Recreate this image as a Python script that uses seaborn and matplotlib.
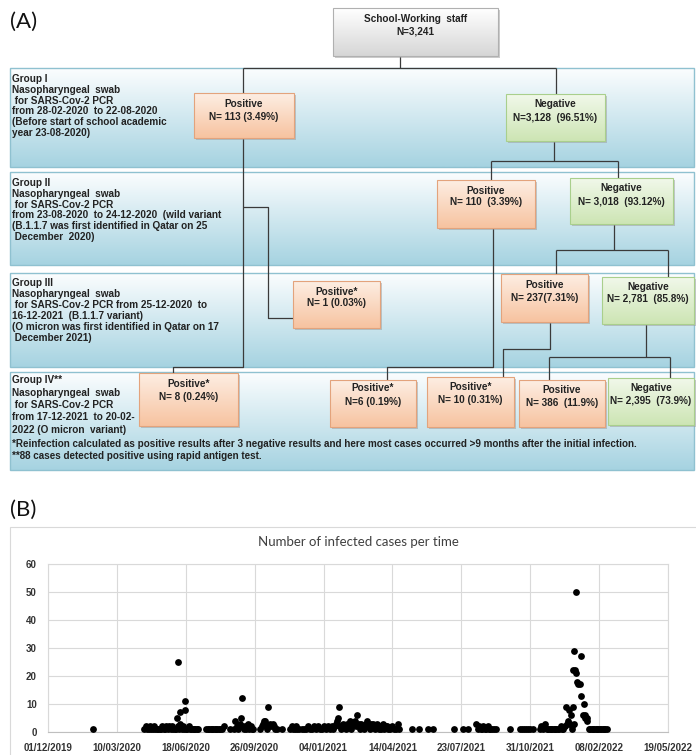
import numpy as np
import pandas as pd
import matplotlib
import matplotlib.pyplot as plt
import matplotlib.dates as mdates
from matplotlib.colors import to_rgb
from matplotlib.patches import Rectangle
import seaborn as sns

matplotlib.use('Agg')

# ---- data for panel (B): days after 01/12/2019 and number of cases ----
start_date = '2019-12-01'
days = [66,
        140, 142, 144, 146, 148, 150, 152, 154, 156, 158, 160, 162, 164, 166, 168, 170, 172, 174, 176,
        178, 180, 182, 184, 186, 187, 188, 189, 190, 191, 192, 193, 194, 196, 198, 199, 199, 200, 202,
        204, 206, 208, 210, 212, 214, 216, 218,
        230, 232, 234, 236, 238, 240, 242, 244, 246, 248, 250, 252, 255,
        264, 270, 272, 274, 276, 278, 280, 281, 282, 284, 286, 288, 290, 292, 294, 296, 298,
        308, 310, 312, 313, 315, 316, 318, 320, 322, 324, 326, 328, 330, 333, 339,
        352, 354, 356, 358, 360, 362, 365, 368, 371, 374, 377, 380, 383, 386, 389, 392, 395, 398, 401,
        404, 407, 410, 412, 414, 416, 418, 420, 421, 423, 424, 426, 428, 430, 432, 434, 436, 438, 440,
        442, 445, 447, 449, 451, 453, 455, 457, 459, 461, 463, 465, 467, 469, 471, 472, 474, 476, 478,
        480, 482, 484, 486, 488, 490, 492, 494, 496, 499, 502, 505, 508, 510,
        528, 539, 551, 559, 590, 603, 609,
        622, 624, 626, 628, 630, 632, 634, 636, 638, 640, 642, 645, 648, 651, 671,
        685, 688, 691, 694, 697, 700, 704,
        714, 716, 718, 720, 722, 724, 726, 728, 730, 732, 734, 736, 738, 740, 742, 744, 746, 748, 750,
        752, 753, 755, 756, 758, 759, 760, 761, 762, 762, 763, 764, 765, 766, 767, 768, 770, 772, 774,
        774, 776, 778, 779, 780, 782, 783, 785, 787, 789, 791, 793, 795, 797, 799, 801, 803, 805, 807,
        809, 811]
cases = [1,
         1, 2, 1, 1, 2, 1, 1, 2, 1, 1, 1, 1, 1, 2, 1, 1, 2, 1, 2,
         1, 2, 1, 1, 1, 5, 2, 25, 1, 3, 7, 2, 1, 2, 1, 11, 8, 1, 1,
         2, 1, 1, 1, 1, 1, 1, 1,
         1, 1, 1, 1, 1, 1, 1, 1, 1, 1, 1, 1, 2,
         1, 1, 4, 2, 1, 3, 5, 12, 2, 1, 2, 1, 3, 1, 2, 1, 1,
         1, 2, 3, 4, 4, 2, 1, 9, 3, 2, 3, 2, 1, 1, 1,
         1, 2, 1, 1, 2, 1, 1, 1, 1, 1, 2, 1, 1, 2, 1, 2, 1, 1, 2,
         1, 2, 1, 2, 1, 2, 3, 4, 5, 9, 2, 1, 3, 2, 1, 3, 2, 4, 1,
         3, 4, 2, 6, 3, 1, 3, 2, 1, 3, 4, 2, 1, 3, 2, 3, 1, 2, 3,
         1, 2, 1, 3, 1, 2, 2, 1, 1, 2, 1, 1, 3, 1,
         1, 1, 1, 1, 1, 1, 1,
         3, 1, 2, 1, 1, 2, 1, 1, 2, 1, 1, 1, 1, 1, 1,
         1, 1, 1, 1, 1, 1, 1,
         1, 2, 1, 2, 3, 1, 1, 1, 1, 1, 1, 1, 1, 1, 1, 2, 1, 1, 2,
         9, 3, 4, 8, 3, 6, 2, 1, 9, 22, 3, 29, 22, 50, 21, 18, 17, 17, 27,
         13, 6, 10, 5, 6, 4, 5, 1, 1, 1, 1, 1, 1, 1, 1, 1, 1, 1, 1,
         1, 1]
tick_step_days = 100
n_ticks = 10
y_ticks = [0, 10, 20, 30, 40, 50, 60]
chart_title = 'Number of infected cases per time'

# ---- text for panel (A) ----
group_lines = [
    ['Group I', 'Nasopharyngeal  swab', ' for SARS-Cov-2 PCR', 'from 28-02-2020  to 22-08-2020',
     '(Before start of school academic', 'year 23-08-2020)'],
    ['Group II', 'Nasopharyngeal  swab', ' for SARS-Cov-2 PCR',
     'from 23-08-2020  to 24-12-2020  (wild variant', '(B.1.1.7 was first identified in Qatar on 25',
     ' December  2020)'],
    ['Group III', 'Nasopharyngeal  swab', ' for SARS-Cov-2 PCR from 25-12-2020  to',
     '16-12-2021  (B.1.1.7 variant)', '(O micron was first identified in Qatar on 17', ' December 2021)'],
    ['Group IV**', 'Nasopharyngeal  swab', ' for SARS-Cov-2 PCR', 'from 17-12-2021  to 20-02-',
     '2022 (O micron  variant)'],
]
footnotes = ['*Reinfection calculated as positive results after 3 negative results and here most cases '
             'occurred >9 months after the initial infection.',
             '**88 cases detected positive using rapid antigen test.']
box_titles = ['School-Working  staff', 'Positive', 'Negative', 'Positive', 'Negative', 'Positive*',
              'Positive', 'Negative', 'Positive*', 'Positive*', 'Positive*', 'Positive', 'Negative']
box_counts = ['N=3,241', 'N= 113 (3.49%)', 'N=3,128  (96.51%)', 'N= 110  (3.39%)', 'N= 3,018  (93.12%)',
              'N= 1 (0.03%)', 'N= 237(7.31%)', 'N= 2,781  (85.8%)', 'N= 8 (0.24%)', 'N=6 (0.19%)',
              'N= 10 (0.31%)', 'N= 386  (11.9%)', 'N= 2,395  (73.9%)']
box_kinds = ['root', 'pos', 'neg', 'pos', 'neg', 'pos', 'pos', 'neg', 'pos', 'pos', 'pos', 'pos', 'neg']

# layout (pixels) for panel (A)
box_rects = [(333, 8, 498, 56), (194, 93, 294, 138), (506, 94, 605, 141), (437, 180, 535, 228),
             (570, 178, 673, 224), (293, 281, 380, 328), (501, 274, 588, 322), (602, 277, 694, 324),
             (139, 373, 238, 426), (330, 380, 416, 427), (427, 377, 514, 427), (519, 380, 605, 427),
             (608, 378, 694, 425)]
box_text_y = [(19, 32), (104, 117), (104, 118), (191, 202), (188, 202), (292, 303), (285, 298),
              (287, 299), (384, 397), (388, 402), (387, 400), (390, 403), (388, 401)]
band_rects = [(10, 68, 694, 167), (10, 172, 694, 265), (10, 273, 694, 367), (10, 372, 694, 470)]
group_text_y = [(79, 10.8), (183, 10.8), (283, 11), (380, 12.5)]
connectors = [
    [(400, 56), (400, 68)], [(243, 68), (556, 68)], [(243, 68), (243, 93)], [(556, 68), (556, 94)],
    [(243, 138), (243, 367), (173, 367), (173, 373)],
    [(243, 207), (268, 207), (268, 318), (293, 318)],
    [(554, 141), (554, 161)], [(491, 161), (618, 161)], [(491, 161), (491, 180)], [(618, 161), (618, 178)],
    [(493, 228), (493, 367), (387, 367), (387, 380)],
    [(614, 224), (614, 250)], [(556, 250), (668, 250)], [(556, 250), (556, 274)], [(668, 250), (668, 277)],
    [(550, 322), (550, 349), (503, 349), (503, 377)],
    [(646, 324), (646, 357)], [(549, 357), (670, 357)], [(549, 357), (549, 380)], [(670, 357), (670, 378)],
]

box_colors = {'root': ('#ffffff', '#d6d6d6', '#b0b0b0'),
              'pos': ('#fdeee3', '#f7c3a0', '#e3a37c'),
              'neg': ('#f1f8ea', '#cde5b4', '#a9cf8c')}

sns.set_style('white')
plt.rcParams['font.family'] = ['Liberation Sans', 'DejaVu Sans']

W, H = 696, 755
FS = 7.2


def grad_rect(ax, x0, y0, x1, y1, top, bot, edge, z, lw=0.8, shadow=False):
    c0, c1 = np.array(to_rgb(top)), np.array(to_rgb(bot))
    t = np.linspace(0, 1, 64)[:, None]
    img = (c0 + (c1 - c0) * t)[:, None, :]
    if shadow:
        ax.add_patch(Rectangle((x0 + 2, y0 + 2), x1 - x0, y1 - y0, fc='#9a9a9a', ec='none',
                               alpha=0.5, zorder=z - 0.1))
    ax.imshow(img, extent=(x0, x1, y1, y0), aspect='auto', interpolation='bilinear', zorder=z)
    ax.add_patch(Rectangle((x0, y0), x1 - x0, y1 - y0, fc='none', ec=edge, lw=lw, zorder=z + 0.05))


def draw_flowchart(ax):
    for (x0, y0, x1, y1) in band_rects:
        grad_rect(ax, x0, y0, x1, y1, '#fbfdfe', '#a6d3e1', '#8fc1d0', 1, lw=1.0)
    for pts in connectors:
        xs, ys = zip(*pts)
        ax.plot(xs, ys, color='#3a3a3a', lw=0.9, zorder=2, solid_capstyle='butt')
    for rect, kind, title, count, (ty1, ty2) in zip(box_rects, box_kinds, box_titles, box_counts, box_text_y):
        x0, y0, x1, y1 = rect
        top, bot, edge = box_colors[kind]
        grad_rect(ax, x0, y0, x1, y1, top, bot, edge, 3, shadow=True)
        cx = (x0 + x1) / 2
        ax.text(cx, ty1, title, ha='center', va='center', fontsize=FS, fontweight='bold',
                color='#222222', zorder=5)
        ax.text(cx, ty2, count, ha='center', va='center', fontsize=FS, fontweight='bold',
                color='#222222', zorder=5)
    for lines, (y0, step) in zip(group_lines, group_text_y):
        for i, line in enumerate(lines):
            ax.text(12, y0 + i * step, line, ha='left', va='center', fontsize=FS, fontweight='bold',
                    color='#222222', zorder=5)
    ax.text(12, 444, footnotes[0], ha='left', va='center', fontsize=7.1, fontweight='bold',
            color='#222222', zorder=5)
    ax.text(12, 456, footnotes[1], ha='left', va='center', fontsize=7.1, fontweight='bold',
            color='#222222', zorder=5)
    ax.text(10, 22, '(A)', ha='left', va='center', fontsize=16, family='Lato', color='#111111')


fig = plt.figure(figsize=(W / 100, H / 100), dpi=100)
ax_a = fig.add_axes([0, 0, 1, 1])
draw_flowchart(ax_a)

# panel (B) frame, title and label
ax_a.add_patch(Rectangle((10, 527), 700, 240, fc='white', ec='#d9d9d9', lw=0.8, zorder=1))
ax_a.text(10, 510, '(B)', ha='left', va='center', fontsize=16, family='Lato', color='#111111')
ax_a.text(358, 542, chart_title, ha='center', va='center', fontsize=9.5, family='Lato', color='#404040')
ax_a.set_xlim(0, W)
ax_a.set_ylim(H, 0)
ax_a.axis('off')

# panel (B) scatter
start = pd.Timestamp(start_date)
df = pd.DataFrame({'date': start + pd.to_timedelta(days, unit='D'), 'cases': cases})
ax_b = fig.add_axes([48 / W, 1 - 732 / H, 620 / W, 168 / H])
sns.scatterplot(data=df, x='date', y='cases', color='black', s=24, linewidth=0, ax=ax_b, zorder=3,
                clip_on=False)
ticks = pd.date_range(start, periods=n_ticks, freq=f'{tick_step_days}D')
ax_b.set_xlim(ticks[0], ticks[-1])
ax_b.set_xticks(ticks)
ax_b.xaxis.set_major_formatter(mdates.DateFormatter('%d/%m/%Y'))
ax_b.set_ylim(0, 60)
ax_b.set_yticks(y_ticks)
ax_b.grid(True, color='#d9d9d9', lw=0.8)
ax_b.set_axisbelow(True)
for sp in ax_b.spines.values():
    sp.set_color('#d9d9d9')
    sp.set_linewidth(0.8)
ax_b.spines['bottom'].set_color('#bfbfbf')
ax_b.tick_params(length=0, labelsize=7, colors='#333333')
ax_b.tick_params(axis='y', pad=8)
ax_b.tick_params(axis='x', pad=8)
for lab in ax_b.get_xticklabels() + ax_b.get_yticklabels():
    lab.set_fontweight('bold')
ax_b.set_xlabel('')
ax_b.set_ylabel('')
ax_b.set_facecolor('white')

fig.savefig('out.png', dpi=100)
plt.close('all')
